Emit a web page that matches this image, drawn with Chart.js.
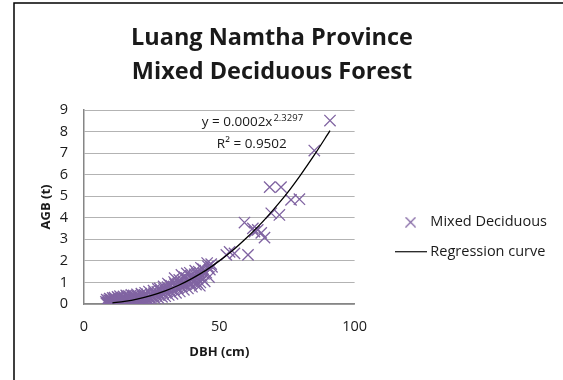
<!DOCTYPE html>
<html>
<head>
<meta charset="utf-8">
<script src="https://cdn.jsdelivr.net/npm/chart.js@4/dist/chart.umd.min.js"></script>
<style>
  html, body { margin: 0; padding: 0; background: #fff; }
</style>
</head>
<body>
<canvas id="grafico" width="563" height="380"></canvas>
<script>
const titulo = ['Luang Namtha Province', 'Mixed Deciduous Forest'];
const ecuacion = 'y = 0.0002x';
const exponente = '2.3297';
const r2 = 'R² = 0.9502';
const nombres = ['Mixed Deciduous', 'Regression curve'];
const ejeX = 'DBH (cm)';
const ejeY = 'AGB (t)';
const ticksX = [0, 50, 100];
const ticksY = [0, 1, 2, 3, 4, 5, 6, 7, 8, 9];

// diametro (cm) y biomasa (t) de cada arbol
const dbh = [
  8.3, 8.6, 8.8, 9.0, 9.2, 9.3, 9.6, 9.8, 10.0, 10.1, 10.3, 10.5, 10.8, 11.0, 11.1, 11.4,
  11.6, 11.9, 12.1, 12.2, 12.5, 12.7, 12.9, 13.2, 13.4, 13.7, 13.9, 14.2, 14.4, 14.7, 14.9,
  15.2, 15.4, 15.7, 15.9, 16.2, 16.5, 16.8, 17.0, 17.3, 17.6, 17.9, 18.2, 18.5, 18.8, 19.1,
  19.4, 19.7, 20.0, 20.3, 20.6, 21.0, 21.3, 21.7, 22.0, 22.4, 22.8, 23.1, 23.5, 23.9, 24.3,
  24.7, 25.1, 25.5, 25.9, 26.3, 26.7, 27.1, 27.5, 27.9, 28.3, 28.8, 29.2, 29.6, 30.0, 30.4,
  30.9, 31.3, 31.8, 32.2, 32.7, 33.1, 33.6, 34.0, 34.5, 35.0, 35.4, 35.9, 36.4, 36.9, 37.4,
  37.9, 38.4, 38.9, 39.4, 39.9, 40.4, 40.9, 41.4, 41.9, 42.4, 43.0, 43.5, 44.0, 44.6, 45.2,
  45.8, 46.5, 47.0, 28.0, 31.0, 33.5, 36.0, 38.0, 40.0, 42.8,
  8.1, 8.4, 8.7, 9.5, 9.9, 10.6, 10.9, 11.3, 11.8, 12.4, 12.8, 13.3, 13.6, 14.1, 14.6, 15.0,
  15.6, 16.0, 16.4, 17.1, 17.5, 18.0, 18.4, 19.0, 19.6, 20.4, 21.2, 21.9, 22.6, 23.3, 24.0,
  24.9, 25.7, 26.5, 27.3, 28.6, 29.4, 30.2, 31.5, 32.4, 33.3, 34.3, 35.2, 36.2, 37.1, 38.2,
  39.1, 40.2, 41.1, 42.0, 43.2, 44.3, 45.5, 46.2, 47.3, 41.7, 39.6, 43.8,
  52.6, 53.8, 55.6, 59.3, 60.6, 62.4, 63.0, 64.2, 65.5, 66.7, 68.6, 69.2, 72.2, 72.8,
  76.5, 79.6, 85.1, 90.9
];
const agb = [
  0.02, 0.08, 0.15, 0.01, 0.05, 0.18, 0.03, 0.10, 0.22, 0.00, 0.06, 0.14, 0.02, 0.09, 0.25, 0.04,
  0.12, 0.20, 0.01, 0.07, 0.16, 0.28, 0.05, 0.11, 0.21, 0.03, 0.14, 0.30, 0.06, 0.17, 0.24,
  0.04, 0.10, 0.20, 0.33, 0.08, 0.15, 0.26, 0.05, 0.12, 0.22, 0.35, 0.09, 0.18, 0.28, 0.07,
  0.15, 0.25, 0.38, 0.11, 0.20, 0.30, 0.10, 0.17, 0.27, 0.42, 0.14, 0.24, 0.35, 0.18, 0.29,
  0.45, 0.20, 0.33, 0.50, 0.25, 0.38, 0.56, 0.28, 0.42, 0.62, 0.33, 0.48, 0.70, 0.36, 0.55,
  0.78, 0.42, 0.60, 0.85, 0.47, 0.67, 0.92, 0.52, 0.74, 1.00, 0.58, 0.82, 1.10, 0.66, 0.90,
  1.20, 0.72, 0.98, 1.30, 0.80, 1.08, 1.38, 0.90, 1.18, 1.50, 1.00, 1.30, 1.62, 1.05, 1.45,
  1.75, 1.60, 1.85, 0.72, 0.95, 1.20, 1.35, 1.42, 1.25, 0.85,
  0.10, 0.20, 0.04, 0.25, 0.16, 0.28, 0.19, 0.30, 0.08, 0.33, 0.18, 0.36, 0.26, 0.09, 0.35, 0.27,
  0.40, 0.15, 0.38, 0.30, 0.42, 0.20, 0.40, 0.33, 0.45, 0.28, 0.48, 0.36, 0.52, 0.44, 0.58,
  0.38, 0.62, 0.48, 0.70, 0.55, 0.82, 0.62, 0.88, 0.70, 1.02, 0.80, 1.12, 0.95, 1.25, 1.05,
  1.45, 1.20, 1.55, 1.35, 1.68, 1.40, 1.90, 1.25, 1.72, 1.00, 0.95, 1.15,
  2.28, 2.42, 2.35, 3.78, 2.28, 3.51, 3.36, 3.44, 3.30, 3.08, 5.42, 4.21, 4.13, 5.42,
  4.83, 4.86, 7.12, 8.51
];

// curva de regresion
const curvaX = [10.5, 15, 20, 25, 30, 35, 40, 45, 50, 55, 60, 65, 70, 75, 80, 85, 90.9];
const curvaY = [0.05, 0.12, 0.24, 0.40, 0.61, 0.87, 1.19, 1.56, 2.00, 2.49, 3.06, 3.68, 4.38, 5.13, 5.98, 6.89, 8.04];

const morado = '#8064A2';
const fuente = '"Open Sans", "Noto Sans", sans-serif';

// simbolos de la leyenda
function simbolo(ancho, alto, dibujar) {
  const c = document.createElement('canvas');
  c.width = ancho; c.height = alto;
  dibujar(c.getContext('2d'));
  return c;
}
const simboloX = simbolo(11, 11, g => {
  g.strokeStyle = morado; g.lineWidth = 1.2;
  g.beginPath();
  g.moveTo(0.5, 0.5); g.lineTo(10.5, 10.5);
  g.moveTo(10.5, 0.5); g.lineTo(0.5, 10.5);
  g.stroke();
});
const simboloLinea = simbolo(32, 2, g => {
  g.fillStyle = '#000'; g.fillRect(0, 0, 32, 1.3);
});

const escena = {
  id: 'escena',
  beforeDraw(chart) {
    const ctx = chart.ctx;
    ctx.save();
    ctx.fillStyle = '#fff';
    ctx.fillRect(0, 0, chart.width, chart.height);
    ctx.strokeStyle = '#000';
    ctx.lineWidth = 1.5;
    ctx.beginPath();
    ctx.moveTo(14, chart.height);
    ctx.lineTo(14, 3);
    ctx.lineTo(chart.width, 3);
    ctx.stroke();
    ctx.restore();
  },
  afterDraw(chart) {
    const { ctx, scales: { x, y } } = chart;
    ctx.save();
    ctx.fillStyle = '#1a1a1a';
    ctx.textAlign = 'center';
    ctx.textBaseline = 'middle';
    ctx.font = 'bold 23.5px ' + fuente;
    titulo.forEach((t, i) => ctx.fillText(t, 272, 38 + i * 34));

    ctx.textAlign = 'left';
    ctx.textBaseline = 'alphabetic';
    ctx.font = '13.5px ' + fuente;
    const x0 = x.getPixelForValue(43.5);
    const y0 = y.getPixelForValue(8.28);
    ctx.fillText(ecuacion, x0, y0);
    const w = ctx.measureText(ecuacion).width;
    ctx.font = '9.5px ' + fuente;
    ctx.fillText(exponente, x0 + w + 1, y0 - 5);
    ctx.font = '13.5px ' + fuente;
    ctx.fillText(r2, x.getPixelForValue(49.1), y.getPixelForValue(7.26));
    ctx.restore();
  }
};

new Chart(document.getElementById('grafico'), {
  type: 'scatter',
  data: {
    datasets: [
      {
        label: nombres[0],
        data: dbh.map((v, i) => ({ x: v, y: agb[i] })),
        pointStyle: 'crossRot',
        pointRadius: 8,
        pointHoverRadius: 8,
        borderColor: morado,
        backgroundColor: morado,
        pointBorderWidth: 1.3,
        order: 1
      },
      {
        label: nombres[1],
        data: curvaX.map((v, i) => ({ x: v, y: curvaY[i] })),
        showLine: true,
        tension: 0.3,
        pointRadius: 0,
        pointHoverRadius: 0,
        borderColor: '#000',
        backgroundColor: '#000',
        borderWidth: 1.3,
        order: 0
      }
    ]
  },
  options: {
    responsive: false,
    animation: false,
    devicePixelRatio: 1,
    layout: { padding: { left: 14, top: 110, right: 6, bottom: 16 } },
    plugins: {
      title: { display: false },
      tooltip: { enabled: false },
      legend: {
        position: 'right',
        maxWidth: 220,
        labels: {
          usePointStyle: true,
          pointStyleWidth: 25,
          boxHeight: 11,
          padding: 15,
          color: '#1a1a1a',
          font: { family: fuente, size: 14.5 },
          sort: (a, b) => a.datasetIndex - b.datasetIndex,
          generateLabels(chart) {
            const items = Chart.defaults.plugins.legend.labels.generateLabels(chart);
            items.forEach(it => {
              it.pointStyle = it.datasetIndex === 0 ? simboloX : simboloLinea;
            });
            return items;
          }
        }
      }
    },
    scales: {
      x: {
        type: 'linear',
        min: 0,
        max: 100,
        afterBuildTicks: s => { s.ticks = ticksX.map(v => ({ value: v })); },
        afterFit: s => { s.height = 60; },
        grid: { display: false, drawTicks: false },
        border: { display: true, color: '#868686', width: 1.5 },
        ticks: { padding: 14, color: '#1a1a1a', font: { family: fuente, size: 14.5 } },
        title: {
          display: true, text: ejeX, color: '#1a1a1a',
          font: { family: fuente, size: 13, weight: 'bold' },
          padding: { top: 0, bottom: 4 }
        }
      },
      y: {
        type: 'linear',
        min: 0,
        max: 9,
        afterBuildTicks: s => { s.ticks = ticksY.map(v => ({ value: v })); },
        afterFit: s => { s.width = 70; },
        grid: { color: '#b3b3b3', lineWidth: 1, drawTicks: false },
        border: { display: true, color: '#868686', width: 1.5 },
        ticks: { padding: 16, color: '#1a1a1a', font: { family: fuente, size: 14.5 } },
        title: {
          display: true, text: ejeY, color: '#1a1a1a',
          font: { family: fuente, size: 13, weight: 'bold' },
          padding: { top: 24, bottom: 0 }
        }
      },
      hueco: {
        type: 'linear',
        position: 'right',
        display: true,
        afterFit: s => { s.width = 28.5; },
        grid: { display: false, drawTicks: false },
        border: { display: false },
        ticks: { display: false }
      }
    }
  },
  plugins: [escena]
});
</script>
</body>
</html>
